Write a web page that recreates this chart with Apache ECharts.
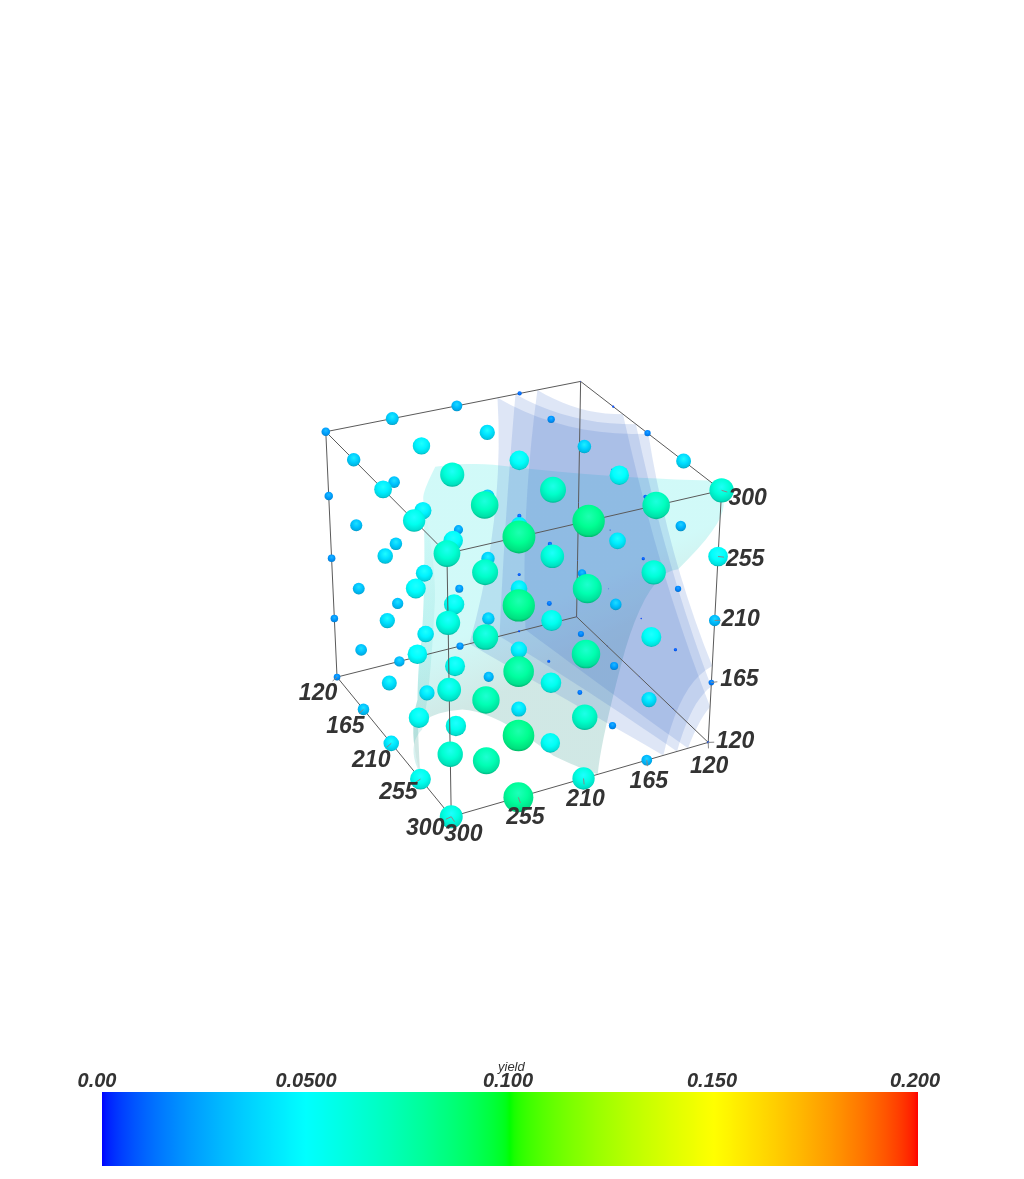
<!DOCTYPE html>
<html><head><meta charset="utf-8">
<style>html,body{margin:0;padding:0;background:#fff}#c{width:1024px;height:1179px}</style>
<script src="https://cdn.jsdelivr.net/npm/echarts@6/dist/echarts.min.js"></script>
</head><body><div id="c"></div>
<script>
// ---------- grid levels and tick labels ----------
const levels = [120, 165, 210, 255, 300];
const colorbarTicks = [0, 0.05, 0.1, 0.15, 0.2];
const colorbarLabels = ['0.00', '0.0500', '0.100', '0.150', '0.200'];
// yield values: one table per x level; rows z = 300..120, columns y = 300..120
const yieldX120 = [
 [.023,.035,.030,.012,.002],[.023,.032,.023,.007,.002],[.021,.035,.026,.012,.002],[.021,.032,.023,.009,.002],[.019,.030,.021,.006,.001]];
const yieldX165 = [
 [.035,.046,.041,.020,.006],[.032,.046,.037,.018,.003],[.032,.046,.037,.012,.003],[.032,.046,.035,.014,.002],[.032,.043,.029,.009,.001]];
const yieldX210 = [
 [.045,.062,.051,.036,.017],[.040,.051,.045,.020,.011],[.040,.054,.045,.023,.009],[.040,.054,.045,.017,.004],[.042,.056,.042,.014,.001]];
const yieldX255 = [
 [.055,.069,.066,.050,.039],[.050,.066,.061,.044,.028],[.050,.066,.055,.031,.017],[.053,.072,.055,.022,.009],[.055,.072,.053,.020,.002]];
const yieldX300 = [
 [.064,.080,.080,.069,.062],[.059,.080,.073,.062,.051],[.059,.077,.073,.052,.030],[.064,.081,.066,.040,.015],[.059,.078,.059,.029,.006]];
const yieldTables = [yieldX120, yieldX165, yieldX210, yieldX255, yieldX300];

// isosurface outlines in data coordinates [x, y, z]; each side: start, middle, end
const blueOuter = [
 [[120,181,300],[179,160,300],[211,120,300]],
 [[211,120,300],[248,120,233],[300,120,177]],
 [[300,120,177],[300,140,160],[300,153,120]],
 [[300,153,120],[210,178,120],[120,203,120]],
 [[120,203,120],[120,184,210],[120,181,300]]];
const blueMiddle = [
 [[120,168,300],[168,151,300],[195,120,300]],
 [[195,120,300],[243,120,225],[300,120,162]],
 [[300,120,162],[300,133,148],[300,143,120]],
 [[300,143,120],[210,160,120],[120,180,120]],
 [[120,180,120],[120,175,210],[120,168,300]]];
const blueInner = [
 [[120,152,300],[158,141,300],[178,120,300]],
 [[178,120,300],[235,120,215],[300,120,147]],
 [[300,120,147],[300,128,136],[300,135,120]],
 [[300,135,120],[210,148,120],[120,160,120]],
 [[120,160,120],[120,160,210],[120,152,300]]];
const cyanMain = [
 [[285,120,300],[257,165,300],[220,214,300]],
 [[220,214,300],[203,236,300],[192,258,298]],
 [[192,258,298],[172,256,274],[166,255,263]],
 [[166,255,263],[165,255,210],[165,258,161]],
 [[165,258,161],[166,261,140],[170,264,120]],
 [[170,264,120],[206,283,120],[250,298,120]],
 [[250,298,120],[214,283,120],[200,277,120]],
 [[200,277,120],[192,262,120],[194,243,120]],
 [[194,243,120],[218,227,120],[269,215,120]],
 [[269,215,120],[285,208,120],[300,200,120]],
 [[300,200,120],[300,195,154],[300,183,206]],
 [[300,183,206],[300,167,243],[300,148,253]],
 [[300,148,253],[300,122,278],[300,120,296]],
 [[300,120,296],[298,120,300],[285,120,300]]];
const cyanFold = [
 [[166,255,263],[165,255,210],[165,258,161]],
 [[165,258,161],[166,261,140],[170,264,120]],
 [[170,264,120],[206,283,120],[250,298,120]],
 [[250,298,120],[222,290,120],[204,276,120]],
 [[204,276,120],[165,253,130],[165,248,188]],
 [[165,248,188],[165,249,220],[166,255,263]]];

// ---------- camera: where the cube corners land on the page ----------
const camera = [
 [120,300,120, 337,677],[300,300,120, 451,817],[300,120,120, 708,742],[120,120,120, 577,617],
 [120,300,300, 326,432],[300,300,300, 447,553],[300,120,300, 722,491],[120,120,300, 580,381]];
function solve(A, b) {
  const n = b.length, M = A.map((r, i) => r.concat(b[i]));
  for (let i = 0; i < n; i++) {
    let p = i; for (let j = i + 1; j < n; j++) if (Math.abs(M[j][i]) > Math.abs(M[p][i])) p = j;
    [M[i], M[p]] = [M[p], M[i]];
    for (let j = 0; j < n; j++) if (j !== i) {
      const f = M[j][i] / M[i][i];
      for (let k = i; k <= n; k++) M[j][k] -= f * M[i][k];
    }
  }
  return M.map((r, i) => r[n] / r[i]);
}
const nrm = v => (v - 120) / 180;
const H = (() => {
  const rows = [], rhs = [];
  camera.forEach(([a, b, c, x, y]) => {
    const u = nrm(a), v = nrm(b), t = nrm(c);
    rows.push([u, v, t, 1, 0, 0, 0, 0, -x * u, -x * v, -x * t]); rhs.push(x);
    rows.push([0, 0, 0, 0, u, v, t, 1, -y * u, -y * v, -y * t]); rhs.push(y);
  });
  const N = rows[0].length, AtA = [], Atb = [];
  for (let i = 0; i < N; i++) {
    AtA.push([]); let s = 0;
    for (let j = 0; j < N; j++) { let q = 0; rows.forEach(r => q += r[i] * r[j]); AtA[i].push(q); }
    rows.forEach((r, k) => s += r[i] * rhs[k]); Atb.push(s);
  }
  return solve(AtA, Atb);
})();
function project(a, b, c) {
  const u = nrm(a), v = nrm(b), t = nrm(c);
  const w = H[8] * u + H[9] * v + H[10] * t + 1;
  return { x: (H[0] * u + H[1] * v + H[2] * t + H[3]) / w, y: (H[4] * u + H[5] * v + H[6] * t + H[7]) / w, w };
}
const nearW = project(300, 300, 120).w;
const scaleAt = (a, b, c) => nearW / project(a, b, c).w;

// ---------- colour map ----------
const GAMMA = 0.6;
function jet(f) {
  f = Math.max(0, Math.min(1, f));
  const g = t => 255 * Math.pow(t, GAMMA);
  if (f < .25) return [0, g(f / .25), 255];
  if (f < .5) return [0, 255, g((.5 - f) / .25)];
  if (f < .75) return [g((f - .5) / .25), 255, 0];
  return [255, g((1 - f) / .25), 0];
}
const rgb = (c, k = 1, w = 0) => `rgb(${c.map(v => Math.round(Math.min(255, v * k + w))).join(',')})`;

// ---------- tick layout ----------
const RADIUS_PER_YIELD = 195;
const axesDef = [
 { at: v => [v, 300, 120], off: [[-19,17],[-18,17],[-20,17],[-22,14],[-26,12]] },
 { at: v => [300, v, 120], off: [[1,24],[2,21],[2,21],[7,20],[12,18]] },
 { at: v => [300, 120, v], off: [[27,-1],[28,-3],[26,-1],[27,3],[26,8]] }];
const labelRows = [];
axesDef.forEach(ax => levels.forEach((v, i) => {
  const p = ax.at(v); labelRows.push([p[0], p[1], p[2], ax.off[i][0], ax.off[i][1], String(v)]);
}));

// scene items in depth order: spheres and cube edge segments
const items = [];
yieldTables.forEach((tab, ix) => tab.forEach((row, ir) => row.forEach((val, ic) => {
  const a = levels[ix], c = levels[4 - ir], b = levels[4 - ic];
  items.push({ kind: 's', a, b, c, val, depth: scaleAt(a, b, c) });
})));
const corners = [[120,120,120],[300,120,120],[300,300,120],[120,300,120],[120,120,300],[300,120,300],[300,300,300],[120,300,300]];
[[0,1],[1,2],[2,3],[3,0],[4,5],[5,6],[6,7],[7,4],[0,4],[1,5],[2,6],[3,7]].forEach(([i, j]) => {
  const P = corners[i], Q = corners[j];
  for (let k = 0; k < 4; k++) {
    const m = t => P.map((v, n) => v + (Q[n] - v) * t);
    const p0 = m(k / 4), p1 = m((k + 1) / 4);
    items.push({ kind: 'l', p0, p1, depth: Math.min(scaleAt(...p0), scaleAt(...p1)) - 0.002 });
  }
});
items.sort((x, y) => x.depth - y.depth);

function outline(sides) {
  const pts = [];
  sides.forEach(([p0, pm, p2]) => {
    const ctrl = pm.map((v, i) => 2 * v - .5 * (p0[i] + p2[i]));
    for (let k = 0; k < 10; k++) {
      const t = k / 10, s = 1 - t;
      pts.push(p0.map((v, i) => s * s * v + 2 * s * t * ctrl[i] + t * t * p2[i]));
    }
  });
  return pts;
}
const grad = (x2, y2, stops) => ({ type: 'linear', x: 0, y: 0, x2, y2, colorStops: stops.map(([offset, color]) => ({ offset, color })) });
const surfaces = [
 { name: 'cyan', sides: cyanMain, fill: grad(.45, 1, [[0,'rgba(90,235,230,.28)'],[.52,'rgba(90,235,230,.28)'],[.72,'rgba(100,178,168,.30)'],[1,'rgba(100,178,168,.30)']]) },
 { name: 'fold', sides: cyanFold, fill: grad(0, 1, [[0,'rgba(60,190,185,0)'],[.35,'rgba(60,190,185,.10)'],[1,'rgba(60,190,185,.22)']]) },
 { name: 'blue1', sides: blueOuter, fill: 'rgba(50,100,200,.16)' },
 { name: 'blue2', sides: blueMiddle, fill: 'rgba(50,100,200,.16)' },
 { name: 'blue3', sides: blueInner, fill: 'rgba(50,100,200,.16)' }];

const TEXT = '#333';
const barShift = ['{a|', '{b|', '{c|', '{c|', '{d|'];
const barFont = { color: TEXT, fontFamily: 'Liberation Sans', fontStyle: 'italic', fontWeight: 'bold', fontSize: 20 };
const option = {
  animation: false, backgroundColor: '#fff',
  grid: [
    { left: 0, top: 0, width: 1024, height: 1179, containLabel: false },
    { left: 102, top: 1092, width: 816, height: 74, containLabel: false }],
  xAxis: [
    { gridIndex: 0, type: 'value', min: 0, max: 1024, show: false },
    { gridIndex: 1, type: 'value', min: 0, max: 0.2, interval: 0.05, position: 'top',
      axisLine: { show: false }, axisTick: { show: false }, splitLine: { show: false },
      axisLabel: { margin: 1, ...barFont,
        rich: {
          a: { ...barFont, padding: [0, 10, 0, 0] }, b: { ...barFont },
          c: { ...barFont, padding: [0, 4, 0, 0] }, d: { ...barFont, padding: [0, 6, 0, 0] } },
        formatter: v => { const i = colorbarTicks.findIndex(t => Math.abs(t - v) < 1e-9); return barShift[i] + colorbarLabels[i] + '}'; } } }],
  yAxis: [
    { gridIndex: 0, type: 'value', min: 0, max: 1179, inverse: true, show: false },
    { gridIndex: 1, type: 'value', min: 0, max: 1, show: false }],
  graphic: [{ type: 'text', left: 498, top: 1061, style: { text: 'yield', fill: TEXT, font: 'italic 13px "Liberation Sans"' } }],
  series: [
    { type: 'custom', xAxisIndex: 1, yAxisIndex: 1, coordinateSystem: 'cartesian2d', z: 1, silent: true,
      data: [[0, 0.2]],
      renderItem: (p, api) => {
        const a = api.coord([api.value(0), 0]), b = api.coord([api.value(1), 1]);
        const stops = [];
        for (let i = 0; i <= 200; i++) stops.push({ offset: i / 200, color: rgb(jet(i / 200)) });
        return { type: 'rect', shape: { x: a[0], y: b[1], width: b[0] - a[0], height: a[1] - b[1] },
          style: { fill: { type: 'linear', x: 0, y: 0, x2: 1, y2: 0, colorStops: stops } } };
      } },
    { type: 'custom', xAxisIndex: 0, yAxisIndex: 0, z: 2, silent: true, clip: false,
      data: surfaces.map((s, i) => [i]),
      renderItem: (p, api) => {
        const s = surfaces[api.value(0)];
        const pts = outline(s.sides).map(q => { const r = project(...q); return api.coord([r.x, r.y]); });
        return { type: 'polygon', shape: { points: pts }, style: { fill: s.fill, stroke: null } };
      } },
    { type: 'custom', xAxisIndex: 0, yAxisIndex: 0, z: 3, silent: true, clip: false,
      data: items.map((it, i) => [i]),
      renderItem: (p, api) => {
        const it = items[api.value(0)];
        if (it.kind === 'l') {
          const a = project(...it.p0), b = project(...it.p1);
          const A = api.coord([a.x, a.y]), B = api.coord([b.x, b.y]);
          return { type: 'line', shape: { x1: A[0], y1: A[1], x2: B[0], y2: B[1] }, style: { stroke: '#5a5a5a', lineWidth: 1 } };
        }
        const q = project(it.a, it.b, it.c), C = api.coord([q.x, q.y]);
        const r = Math.max(0.4, it.val * RADIUS_PER_YIELD * scaleAt(it.a, it.b, it.c));
        const col = jet(it.val / 0.2);
        return { type: 'circle', shape: { cx: C[0], cy: C[1], r },
          style: { fill: { type: 'radial', x: .5, y: .36, r: .72, colorStops: [
            { offset: 0, color: rgb(col, 1, 30) }, { offset: .45, color: rgb(col) },
            { offset: .78, color: rgb(col, .88) }, { offset: 1, color: rgb(col, .55) }] } } };
      } },
    { type: 'custom', xAxisIndex: 0, yAxisIndex: 0, z: 4, silent: true, clip: false,
      data: labelRows,
      renderItem: (p, api) => {
        const q = project(api.value(0), api.value(1), api.value(2));
        const dx = api.value(3), dy = api.value(4), C = api.coord([q.x, q.y]);
        const len = Math.hypot(dx, dy);
        return { type: 'group', children: [
          { type: 'line', shape: { x1: C[0], y1: C[1], x2: C[0] + dx / len * 6, y2: C[1] + dy / len * 6 }, style: { stroke: '#888', lineWidth: 1 } },
          { type: 'text', x: C[0] + dx, y: C[1] + dy, style: { text: labelRows[p.dataIndex][5], fill: TEXT, align: 'center', verticalAlign: 'middle',
            font: 'italic bold 23px "Liberation Sans"' } }] };
      } }]
};
const chart = echarts.init(document.getElementById('c'), null, { renderer: 'canvas' });
chart.setOption(option);
</script></body></html>
